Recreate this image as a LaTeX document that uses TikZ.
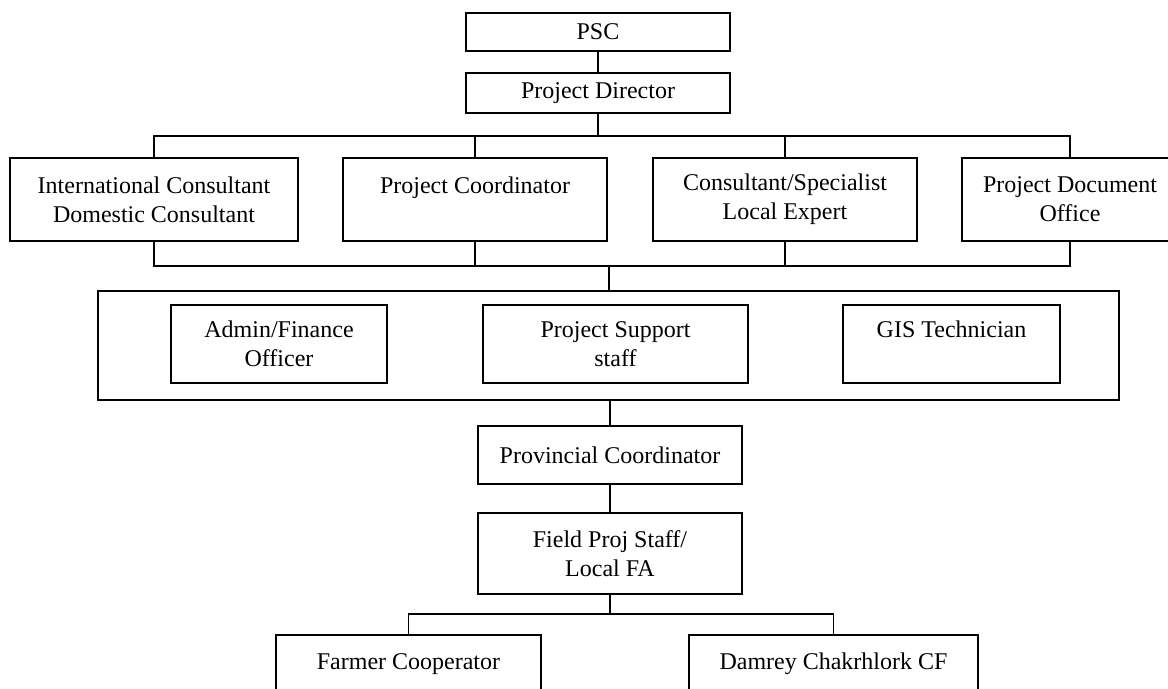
\documentclass[tikz,border=0pt]{standalone}
\usepackage{fontspec}
\setmainfont{Liberation Serif}
\usetikzlibrary{positioning,calc}

\begin{document}
\begin{tikzpicture}[x=0.5pt,y=-0.5pt,
        box/.style={rectangle,draw=black,line width=1pt,align=center,
                    inner sep=0pt,font=\fontsize{12}{14.5}\selectfont},
        link/.style={draw=black,line width=0.9pt}]
  \useasboundingbox (0,0) rectangle (1168,689);
  \node[box,minimum width=132pt,minimum height=19pt]   (psc)  at (598,32)    {PSC};
  \node[box,minimum width=132pt,minimum height=20pt]   (pd)   at (598,93)    {Project Director};
  \node[box,minimum width=144pt,minimum height=41.5pt] (ic)   at (154,199.5) {International Consultant\\Domestic Consultant};
  \node[box,minimum width=132pt,minimum height=41.5pt] (pc)   at (475,199.5) {Project Coordinator\\~};
  \node[box,minimum width=132pt,minimum height=41.5pt] (cs)   at (785,199.5) {Consultant/Specialist\\Local Expert};
  \node[box,minimum width=108pt,minimum height=41.5pt] (pdo)  at (1070,199.5) {Project Document\\Office};
  \node[box,minimum width=510.5pt,minimum height=54.5pt] (staff) at (608.5,345.5) {};
  \node[box,minimum width=108pt,minimum height=39pt]   (af)   at (279,344)   {Admin/Finance\\Officer};
  \node[box,minimum width=132.5pt,minimum height=39pt] (ps)   at (615.5,344) {Project Support\\staff};
  \node[box,minimum width=108.5pt,minimum height=39pt] (gis)  at (951.5,344) {GIS Technician\\~};
  \node[box,minimum width=132pt,minimum height=29pt]   (prov) at (610,455)   {Provincial Coordinator};
  \node[box,minimum width=132pt,minimum height=40.5pt] (field) at (610,553.5) {Field Proj Staff/\\Local FA};
  \node[box,minimum width=132.5pt,minimum height=29pt] (farm) at (408.5,664) {Farmer Cooperator};
  \node[box,minimum width=144.5pt,minimum height=29pt] (cf)   at (833.5,664) {Damrey Chakrhlork CF};

  \coordinate (topbus) at (598,136);
  \coordinate (midbus) at (609,266);
  \coordinate (lowbus) at (610,614);

  \draw[link] (psc) -- (pd);
  \draw[link] (pd) -- (topbus);
  \draw[link] (ic.north) |- (topbus) -| (pdo.north);
  \draw[link] (pc.north) |- (topbus);
  \draw[link] (cs.north) |- (topbus);
  \draw[link] (ic.south) |- (midbus) -| (pdo.south);
  \draw[link] (pc.south) |- (midbus);
  \draw[link] (cs.south) |- (midbus);
  \draw[link] (midbus) -- (midbus |- staff.north);
  \draw[link] (prov.north |- staff.south) -- (prov.north);
  \draw[link] (prov) -- (field);
  \draw[link] (field) -- (lowbus);
  \draw[link] (farm.north) |- (lowbus) -| (cf.north);
\end{tikzpicture}
\end{document}
